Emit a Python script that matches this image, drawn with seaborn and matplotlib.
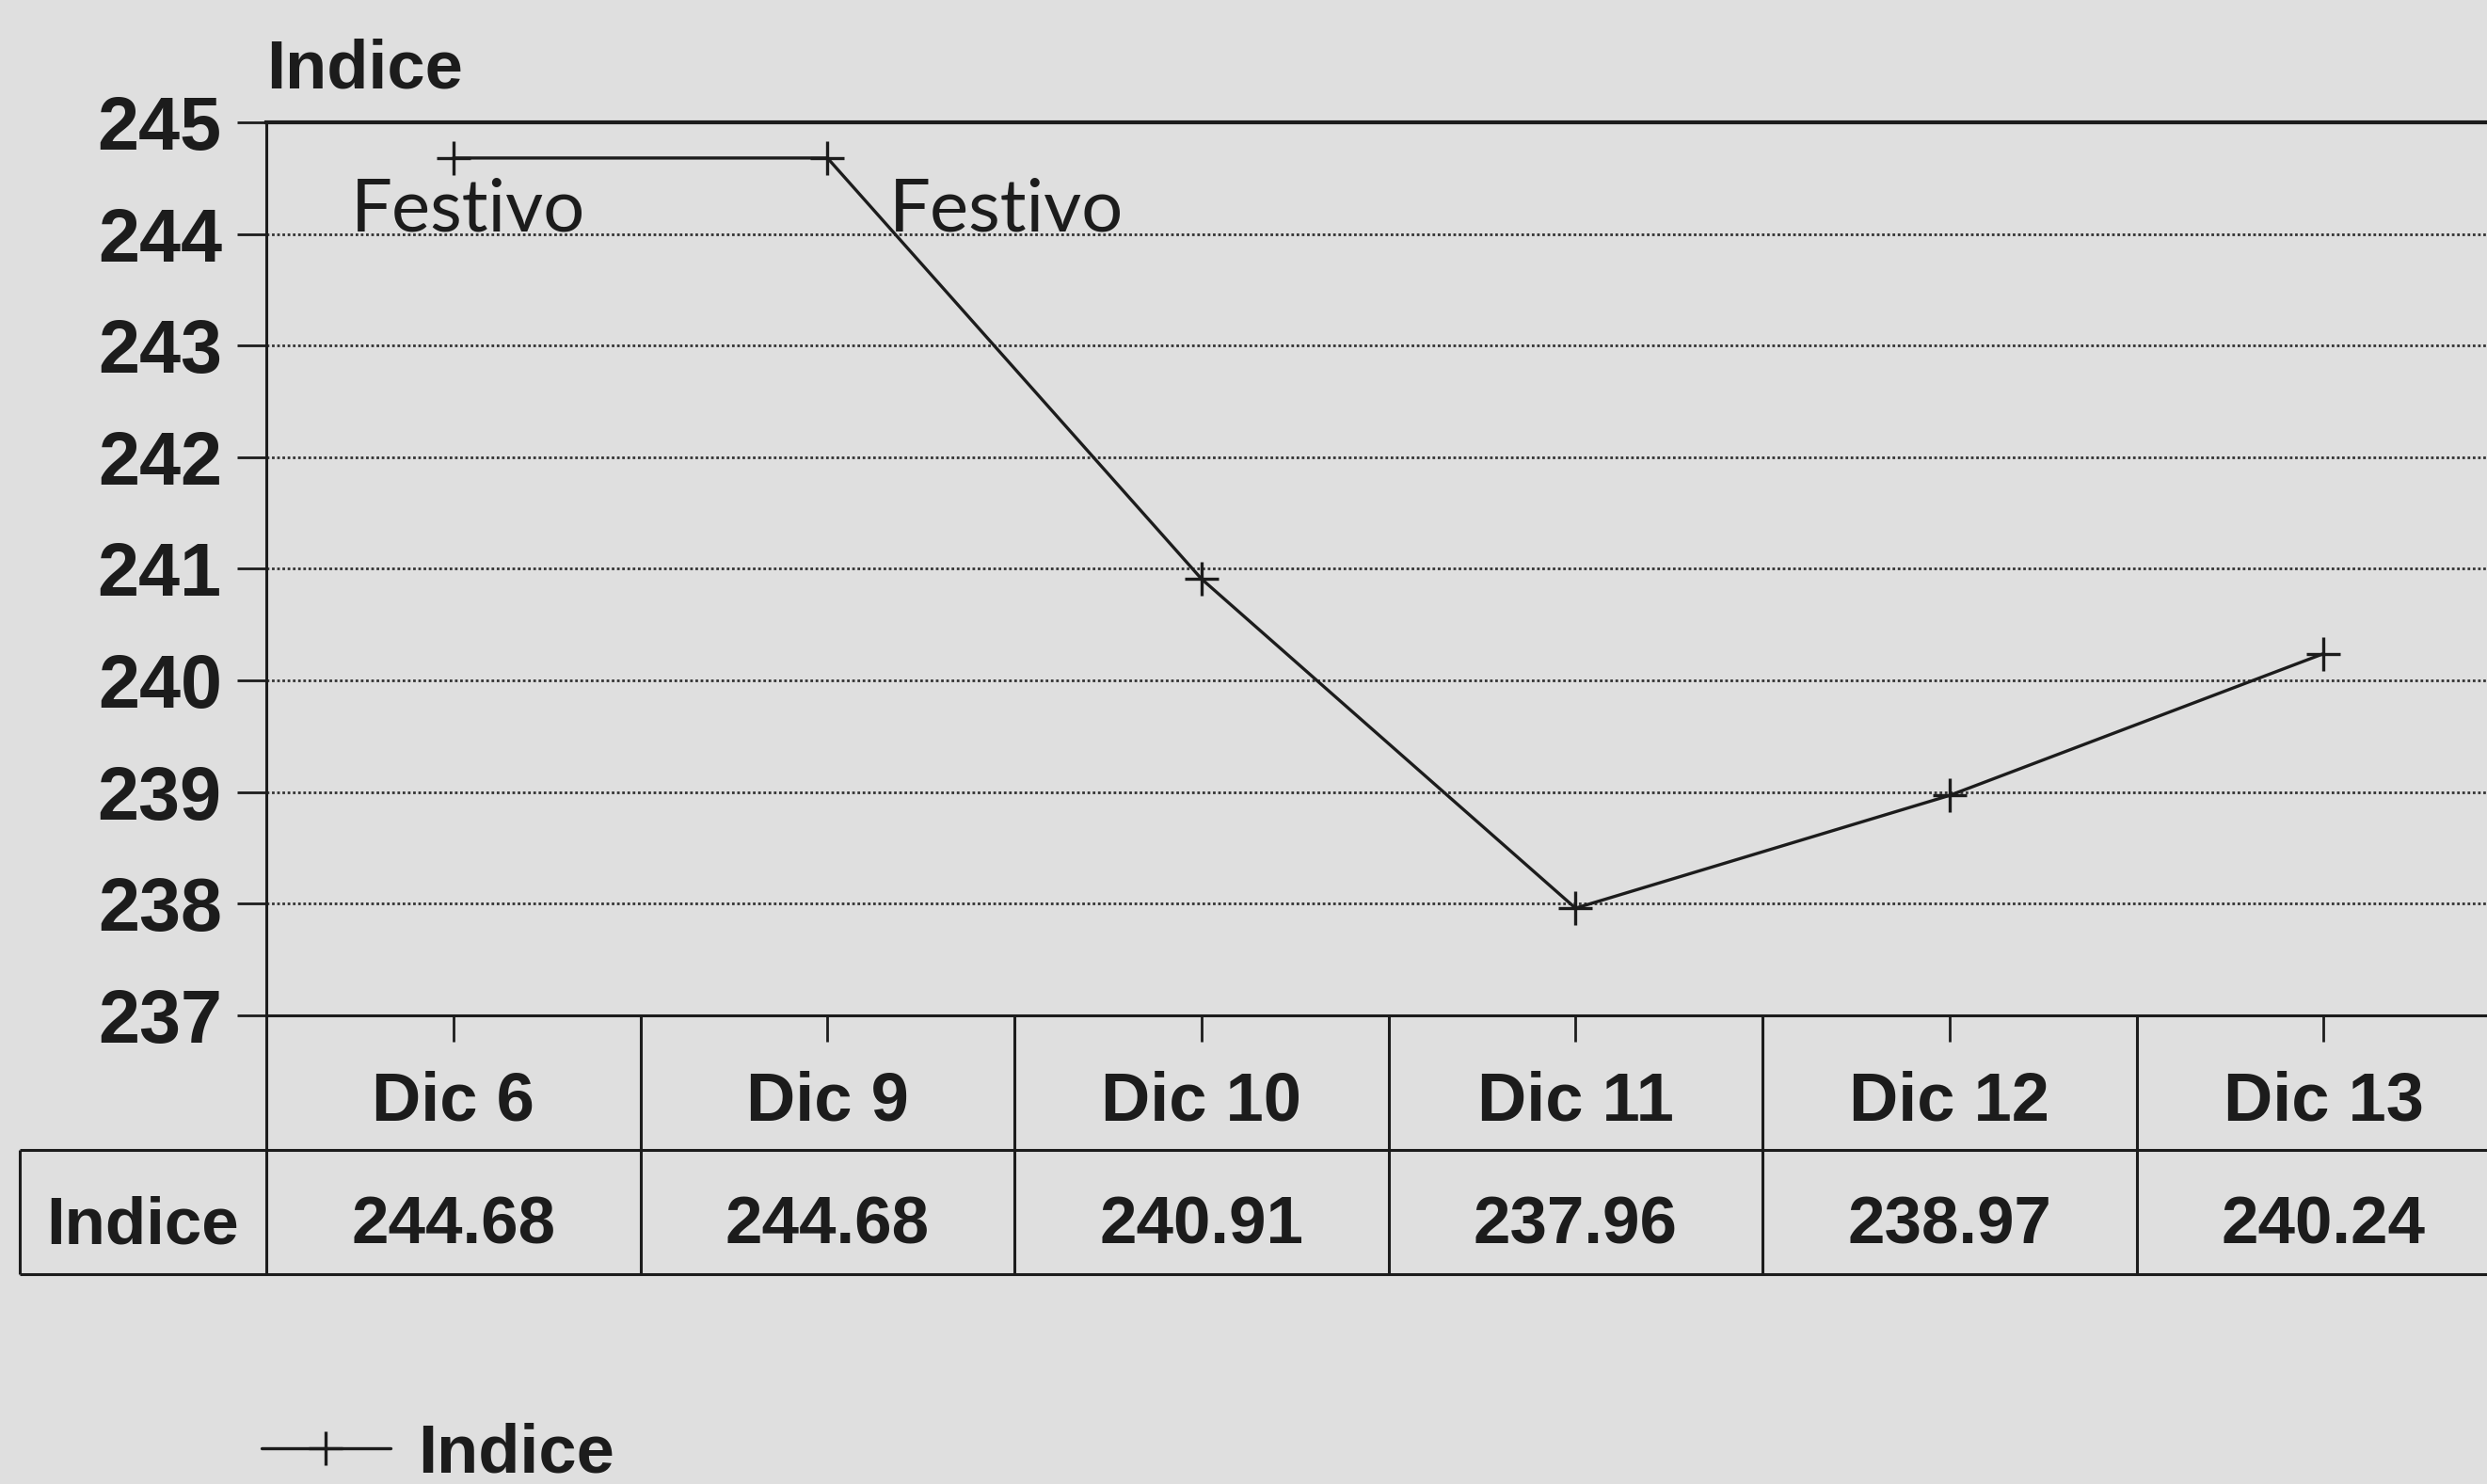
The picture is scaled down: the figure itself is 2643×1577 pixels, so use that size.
import numpy as np
import pandas as pd
import matplotlib
matplotlib.use("Agg")
import matplotlib.pyplot as plt
import seaborn as sns

# data
dates = ['Dic 6', 'Dic 9', 'Dic 10', 'Dic 11', 'Dic 12', 'Dic 13']
indice = [244.68, 244.68, 240.91, 237.96, 238.97, 240.24]
festivo = [True, True, False, False, False, False]
y_ticks = [237, 238, 239, 240, 241, 242, 243, 244, 245]

ink = '#1c1c1c'
paper = '#dfdfdf'

sns.set_theme(style='white')
plt.rcParams['font.family'] = ['Liberation Sans', 'DejaVu Sans']
plt.rcParams['text.color'] = ink
plt.rcParams['axes.edgecolor'] = ink
plt.rcParams['xtick.color'] = ink
plt.rcParams['ytick.color'] = ink

df = pd.DataFrame({'Fecha': dates, 'Indice': indice, 'pos': np.arange(len(dates))})

fig = plt.figure(figsize=(26.43, 15.77), dpi=100, facecolor=paper)
ax = fig.add_axes([0.1071, 0.3158, 0.9024, 0.6018])
ax.set_facecolor(paper)

sns.lineplot(data=df, x='pos', y='Indice', ax=ax, color=ink, lw=2.4,
             marker='+', markersize=26, markeredgewidth=2.4, markeredgecolor=ink,
             label='Indice', legend=False)

ax.set_xlim(-0.5, len(dates) - 0.5)
ax.set_ylim(y_ticks[0], y_ticks[-1])
ax.set_yticks(y_ticks)
ax.set_yticklabels([str(t) for t in y_ticks], fontsize=57, fontweight='bold')
ax.set_xticks(df['pos'])
ax.set_xticklabels([])
ax.set_xlabel('')
ax.set_ylabel('')
ax.tick_params(axis='y', direction='out', length=22, width=2, pad=12, left=True)
ax.tick_params(axis='x', direction='out', length=20, width=2, bottom=True)

# dotted horizontal grid
for t in y_ticks[1:-1]:
    ax.axhline(t, color='#333333', lw=2.0, ls=(0, (1, 1)), zorder=0)

for side in ['left', 'bottom']:
    ax.spines[side].set_linewidth(2.2)
ax.spines['top'].set_linewidth(3)
ax.spines['right'].set_visible(False)

# axis title
ax.annotate('Indice', xy=(0, 1), xycoords='axes fraction', xytext=(0, 26),
            textcoords='offset points', ha='left', va='baseline',
            fontsize=52, fontweight='bold')

# holiday notes
for i, (d, v, f) in enumerate(zip(dates, indice, festivo)):
    if not f:
        continue
    if i == 0:
        ax.text(i + 0.04, v - 0.47, 'Festivo', ha='center', va='center',
                fontsize=56, family=['Lato', 'DejaVu Sans'], fontweight='normal')
    else:
        ax.text(i + 0.165, v - 0.47, 'Festivo', ha='left', va='center',
                fontsize=56, family=['Lato', 'DejaVu Sans'], fontweight='normal')

# data table under the plot
tax = fig.add_axes([0.1071, 0.1414, 0.9024, 0.1744], sharex=ax)
tax.set_ylim(0, 2)
tax.axis('off')
label_left = -1.16
split = 0.96
n = len(dates)
edges = np.arange(n + 1) - 0.5
tax.vlines(edges, 0, 2, color=ink, lw=2.2, clip_on=False)
tax.hlines([0, split], label_left, edges[-1], color=ink, lw=2.2, clip_on=False)
tax.vlines([label_left], 0, split, color=ink, lw=2.2, clip_on=False)
for i, (d, v) in enumerate(zip(dates, indice)):
    tax.text(i, 1.33, d, ha='center', va='center', fontsize=52, fontweight='bold')
    tax.text(i, 0.37, f'{v:.2f}', ha='center', va='center', fontsize=51, fontweight='bold')
tax.text((label_left - 0.5) / 2, 0.37, 'Indice', ha='center', va='center',
         fontsize=51, fontweight='bold', clip_on=False)

# legend at bottom left
handles, labels = ax.get_legend_handles_labels()
fig.legend(handles, labels, loc='center left', bbox_to_anchor=(0.105, 0.02),
           frameon=False, borderpad=0, borderaxespad=0, handlelength=1.9,
           handletextpad=0.4, prop={'size': 52, 'weight': 'bold'})

fig.savefig('out.png', dpi=100, facecolor=paper)
